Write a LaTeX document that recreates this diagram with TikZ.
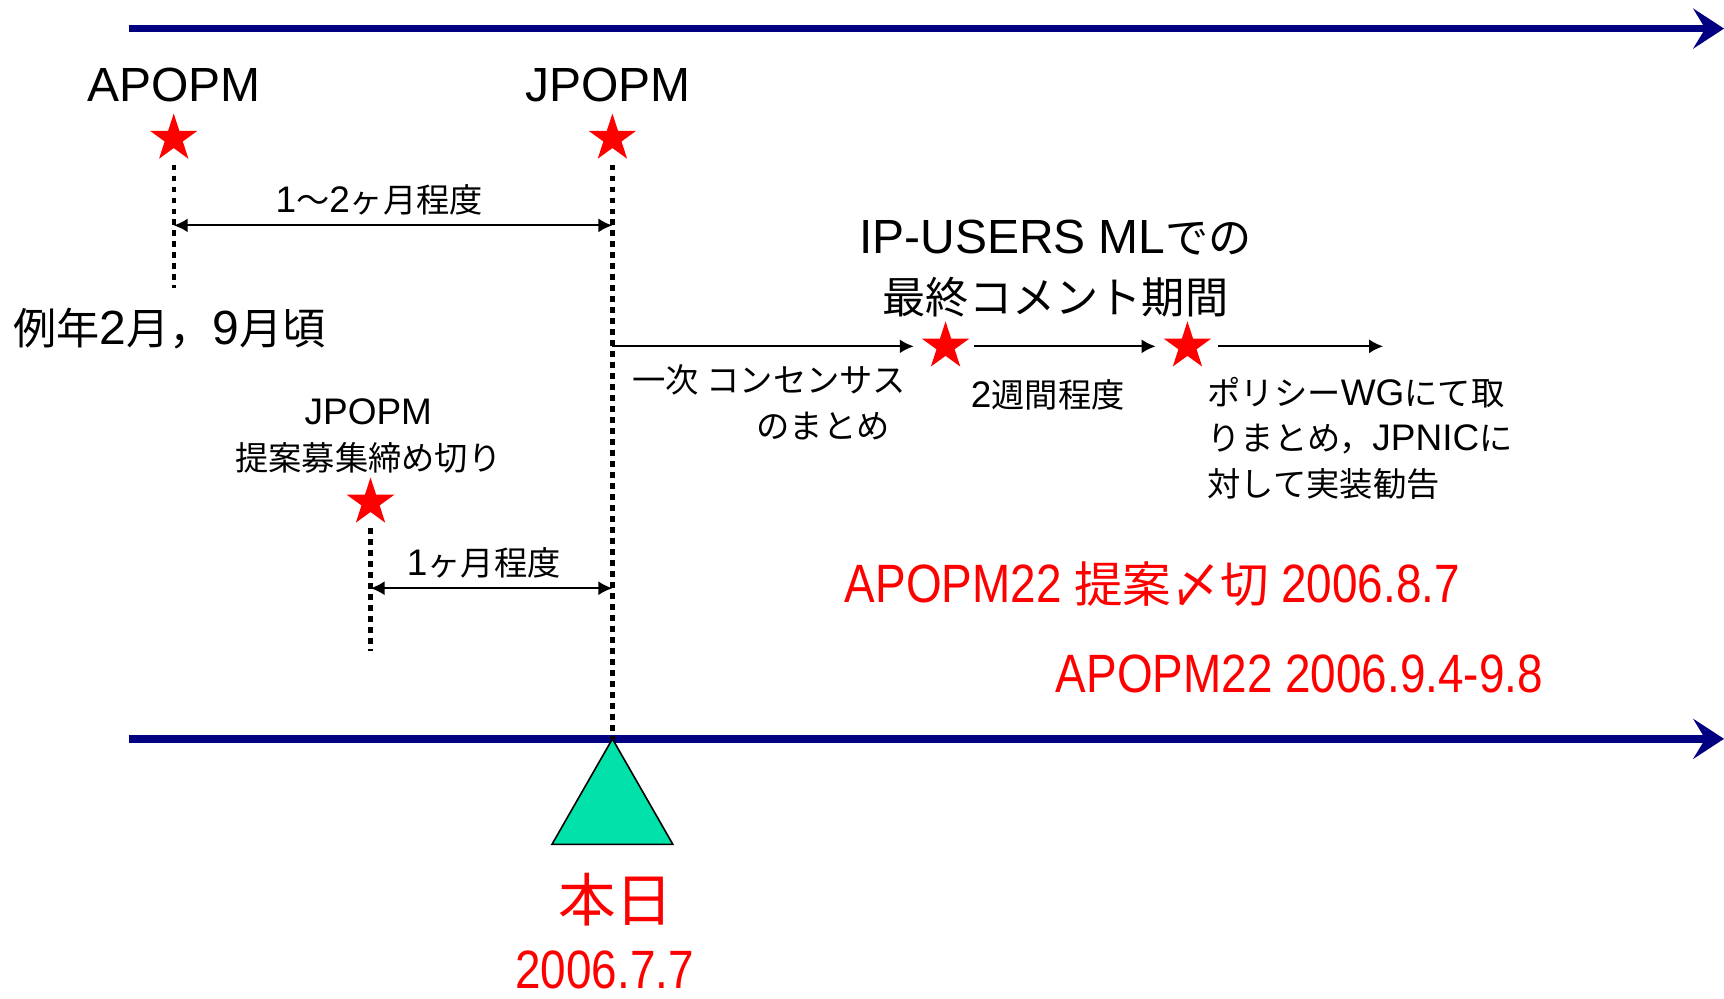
\documentclass[tikz,border=0pt]{standalone}
\usepackage{fontspec}
\setmainfont{Liberation Sans}
\newfontfamily\jpfont[Scale=0.9]{Noto Sans CJK JP}
\newfontfamily\narrowfont[FakeStretch=0.85]{Liberation Sans}
\newcommand{\jp}[1]{{\jpfont #1}}
\usetikzlibrary{shapes.geometric, arrows.meta}
\definecolor{linenavy}{RGB}{0,0,128}
\definecolor{todaygreen}{RGB}{0,226,170}
\tikzstyle{timeline} = [line width=3.85pt, draw=linenavy, -{Stealth[length=15.4pt, width=20pt, inset=6pt]}]
\tikzstyle{guide} = [line width=2.2pt, dash pattern=on 2.75pt off 2.75pt]
\tikzstyle{arrow} = [line width=1.1pt, -{Latex[length=7pt, width=7pt]}]
\tikzstyle{gaparrow} = [line width=1.1pt, {Latex[length=7pt, width=7pt]}-{Latex[length=7pt, width=7pt]}]
\tikzstyle{redstar} = [star, star points=5, star point ratio=2.618, fill=red, inner sep=0pt, minimum size=25pt]
\tikzstyle{bigtext} = [inner sep=0pt, font=\fontsize{24}{30}\selectfont]
\tikzstyle{smalltext} = [inner sep=0pt, font=\fontsize{18.5}{23}\selectfont]
\tikzstyle{redtext} = [inner sep=0pt, text=red, font=\narrowfont\fontsize{27}{32}\selectfont]

\begin{document}
\begin{tikzpicture}[x=0.55pt, y=-0.55pt]
\useasboundingbox (0,0) rectangle (1568,907.7);

% time lines
\coordinate (topL) at (117,26);
\coordinate (topR) at (1568,26);
\coordinate (botL) at (117,672);
\coordinate (botR) at (1568,672);
\draw [timeline] (topL) -- (topR);
\draw [timeline] (botL) -- (botR);

% meetings
\node at (158,92) (apLabel) [bigtext, anchor=base] {APOPM};
\node at (158,126) (apStar) [redstar] {};
\node at (553,92) (jpLabel) [bigtext, anchor=base] {JPOPM};
\node at (557,126) (jpStar) [redstar] {};
\node at (12,313) (season) [bigtext, anchor=base west] {\jp{例年}2\jp{月，}9\jp{月頃}};

\coordinate (apFoot) at (158,262);
\coordinate (nowPt) at (557,672);
\draw [guide, shorten <=13pt] (apStar.center) -- (apFoot);
\draw [guide, shorten <=13pt] (jpStar.center) -- (nowPt);

\coordinate (gapL) at (158,205);
\coordinate (gapR) at (557,205);
\draw [gaparrow] (gapL) -- (gapR);
\node at (345,193) (gapText) [smalltext, anchor=base] {1\jp{～}2\jp{ヶ月程度}};

% proposal deadline
\node at (335,428) (cfpLabel) [smalltext, anchor=base, align=center] {JPOPM\\\jp{提案募集締め切り}};
\node at (337,457) (cfpStar) [redstar] {};
\coordinate (cfpFoot) at (337,592);
\draw [guide, shorten <=13pt] (cfpStar.center) -- (cfpFoot);
\coordinate (cfpL) at (337,535);
\coordinate (cfpR) at (557,535);
\draw [gaparrow] (cfpL) -- (cfpR);
\node at (440,523) (cfpText) [smalltext, anchor=base] {1\jp{ヶ月程度}};

% after JPOPM
\coordinate (rowStart) at (557,315);
\node at (860,315) (cmtStart) [redstar] {};
\node at (1080,315) (cmtEnd) [redstar] {};
\coordinate (rowEnd) at (1258,315);
\draw [arrow, shorten >=9pt] (rowStart) -- (cmtStart);
\draw [arrow, shorten <=7.3pt, shorten >=9pt] (cmtStart) -- (cmtEnd);
\draw [arrow, shorten <=8.4pt] (cmtEnd) -- (rowEnd);

\node at (960,285) (mlTitle) [bigtext, anchor=base, align=center] {IP-USERS ML\jp{での}\\\jp{最終コメント期間}};
\node at (575,399) (firstSum) [smalltext, anchor=base west, align=left] {\jp{一次 コンセンサス}\\\hspace*{62pt}\jp{のまとめ}};
\node at (953,371) (twoWeeks) [smalltext, anchor=base] {2\jp{週間程度}};
\node at (1098,452) (wgText) [smalltext, anchor=base west, align=left] {\jp{ポリシー}WG\jp{にて取}\\\jp{りまとめ，}JPNIC\jp{に}\\\jp{対して実装勧告}};

% dates
\node at (768,548) (cfpDate) [redtext, anchor=base west] {APOPM22 \jp{提案〆切} 2006.8.7};
\node at (960,630) (apDate) [redtext, anchor=base west] {APOPM22 2006.9.4-9.8};

% today
\draw [fill=todaygreen, line width=0.8pt] (nowPt) -- (612,768) -- (502,768) -- cycle;
\node at (560,838) (todayLabel) [anchor=base, text=red, inner sep=0pt, font=\fontsize{32}{36}\selectfont] {\jp{本日}};
\node at (550,899) (todayDate) [redtext, anchor=base] {2006.7.7};

\end{tikzpicture}
\end{document}
